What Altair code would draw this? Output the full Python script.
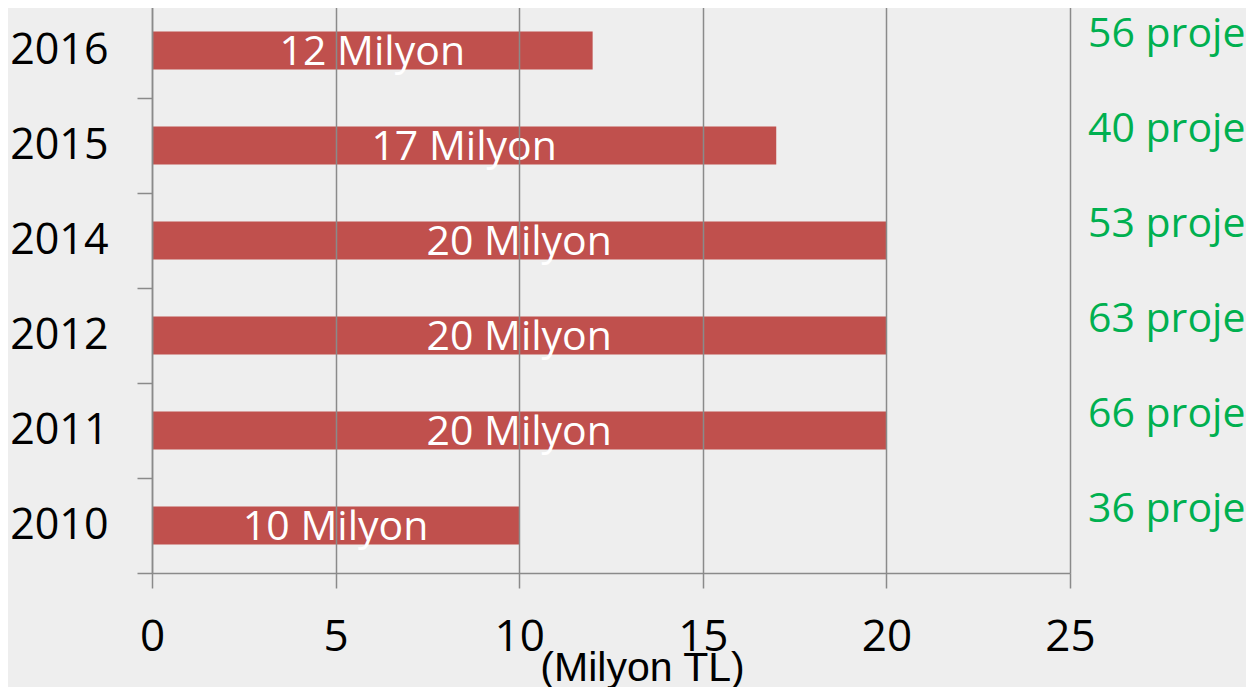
import altair as alt
import pandas as pd

years = ["2016", "2015", "2014", "2012", "2011", "2010"]
amounts = [12, 17, 20, 20, 20, 10]
projects = [56, 40, 53, 63, 66, 36]
x_ticks = [0, 5, 10, 15, 20, 25]

df = pd.DataFrame({"year": years, "amount": amounts, "projects": projects})

GRID = "#8a8a8a"

x_axis = alt.Axis(
    values=x_ticks, grid=True, gridColor=GRID, gridWidth=1.5,
    domainColor=GRID, domainWidth=1.5, tickColor=GRID, tickWidth=1.5, tickSize=15,
    labelFont="Open Sans", labelFontSize=44, labelColor="black", labelPadding=27,
    labelFlush=False, labelOverlap=False,
    title="(Milyon TL)", titleFont="Liberation Sans", titleFontSize=41,
    titleFontWeight="normal", titleColor="black", titleX=490, titleY=107,
    titleBaseline="alphabetic", titleAlign="center", zindex=1,
)
x_scale = alt.Scale(domain=[0, 25], nice=False)

y_enc = alt.Y(
    "year:N", sort=years, title=None,
    scale=alt.Scale(paddingInner=0, paddingOuter=0),
    axis=alt.Axis(
        grid=False, domainColor=GRID, domainWidth=1.5, tickColor=GRID, tickWidth=1.5,
        tickSize=15, tickBand="extent", labelFont="Open Sans", labelFontSize=43,
        labelColor="black", labelPadding=29, zindex=1,
    ),
)

base = alt.Chart(df)

bars = base.mark_bar(color="#C0504D", height=alt.RelativeBandSize(0.4)).encode(
    x=alt.X("amount:Q", scale=x_scale, axis=x_axis, title="(Milyon TL)"),
    y=y_enc,
)

bar_labels = base.transform_calculate(
    mid="datum.amount / 2", txt="datum.amount + ' Milyon'"
).mark_text(
    color="white", font="Open Sans", fontSize=41, baseline="middle", align="center", dy=2
).encode(
    x=alt.X("mid:Q", scale=x_scale, axis=x_axis, title="(Milyon TL)"),
    y=y_enc,
    text="txt:N",
)

proj_labels = base.transform_calculate(
    txt="datum.projects + ' proje'"
).mark_text(
    color="#00B050", font="Open Sans", fontSize=41, baseline="middle",
    align="left", dx=18, dy=-16,
).encode(
    x=alt.datum(25),
    y=y_enc,
    text="txt:N",
)

chart = alt.layer(bars, bar_labels, proj_labels).properties(
    width=918, height=570,
    autosize=alt.AutoSizeParams(type="none"),
    padding={"left": 144, "top": -5, "right": 176, "bottom": 114},
    background="#EEEEEE",
).configure_view(stroke=None)

chart.save("out.html", embed_options={"renderer": "svg", "actions": False})
